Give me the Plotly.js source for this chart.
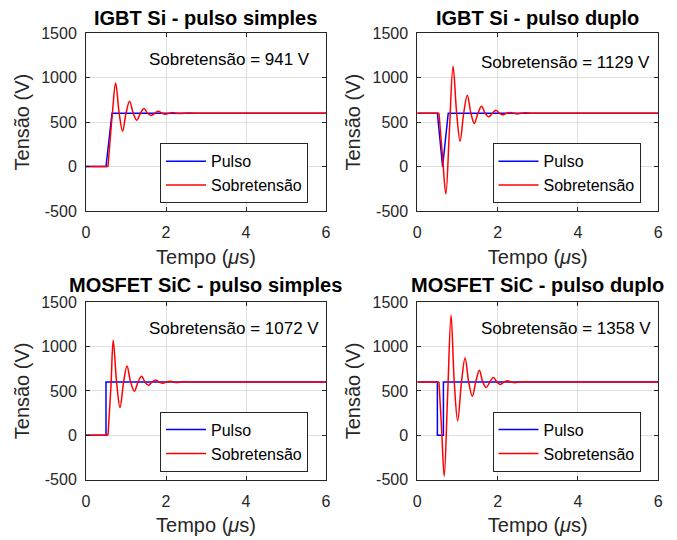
<!DOCTYPE html>
<html><head><meta charset="utf-8">
<script src="https://cdn.plot.ly/plotly-3.0.1.min.js"></script>
<style>html,body{margin:0;padding:0;background:#fff}</style>
</head><body><div id="chart" style="width:677px;height:540px"></div>
<script>
const titles = ['IGBT Si - pulso simples', 'IGBT Si - pulso duplo', 'MOSFET SiC - pulso simples', 'MOSFET SiC - pulso duplo'];
const overshoots = [941, 1129, 1072, 1358];
const seriesNames = ['Pulso', 'Sobretensão'];
const xTicks = [0, 2, 4, 6];
const yTicks = [-500, 0, 500, 1000, 1500];

// Pulso (blue)
const pulseT1 = [0, 0.5, 0.65, 6];
const pulseV1 = [0, 0, 600, 600];
const pulseT2 = [0, 0.5, 0.63, 0.77, 6];
const pulseV2 = [600, 600, 0, 600, 600];
const pulseT3 = [0, 0.5, 0.5, 6];
const pulseV3 = [0, 0, 600, 600];
const pulseT4 = [0, 0.5, 0.5, 0.65, 0.65, 6];
const pulseV4 = [600, 600, 0, 0, 600, 600];

// Sobretensão (red) - flat part before the transient
const preT1 = [0, 0.55], preV1 = [0, 0];
const preT2 = [0, 0.54], preV2 = [600, 600];
const preT3 = [0, 0.55], preV3 = [0, 0];
const preT4 = [0, 0.54], preV4 = [600, 600];

// Sobretensão (red) - oscillating part
const overT1 = [0.55, 0.66, 0.74, 0.83, 0.915, 1.0, 1.09, 1.18, 1.27, 1.36, 1.45, 1.54, 1.63, 1.72, 1.81, 1.9, 1.99, 2.08, 2.17, 2.26, 2.35, 2.44, 2.53, 2.7, 3.0, 6];
const overV1 = [0, 600, 941, 600, 398, 600, 736, 600, 522, 600, 654, 600, 575, 600, 623, 600, 590, 600, 610, 600, 596, 600, 603, 600, 600, 600];
const overT2 = [0.54, 0.63, 0.71, 0.80, 0.89, 0.98, 1.065, 1.155, 1.245, 1.335, 1.42, 1.51, 1.6, 1.69, 1.78, 1.87, 1.955, 2.045, 2.135, 2.22, 2.31, 2.4, 2.49, 2.58, 2.67, 2.85, 3.1, 6];
const overV2 = [600, 100, -308, 410, 1129, 600, 285, 600, 804, 600, 485, 600, 680, 600, 560, 600, 635, 600, 583, 600, 610, 600, 592, 600, 605, 600, 600, 600];
const overT3 = [0.55, 0.625, 0.68, 0.765, 0.85, 0.94, 1.025, 1.115, 1.21, 1.3, 1.39, 1.475, 1.56, 1.65, 1.74, 1.83, 1.92, 2.01, 2.1, 2.19, 2.28, 2.37, 2.46, 2.6, 2.9, 6];
const overV3 = [0, 560, 1072, 600, 312, 600, 782, 600, 496, 600, 665, 600, 563, 600, 623, 600, 585, 600, 610, 600, 594, 600, 604, 600, 600, 600];
const overT4 = [0.54, 0.605, 0.67, 0.755, 0.84, 0.92, 1.005, 1.1, 1.19, 1.28, 1.37, 1.455, 1.545, 1.63, 1.715, 1.805, 1.895, 1.985, 2.07, 2.16, 2.25, 2.34, 2.43, 2.52, 2.61, 2.8, 3.1, 6];
const overV4 = [600, 70, -462, 450, 1358, 600, 162, 600, 872, 600, 440, 600, 733, 600, 538, 600, 650, 600, 573, 600, 615, 600, 592, 600, 604, 600, 600, 600];

const pulses = [[pulseT1, pulseV1], [pulseT2, pulseV2], [pulseT3, pulseV3], [pulseT4, pulseV4]];
const pres = [[preT1, preV1], [preT2, preV2], [preT3, preV3], [preT4, preV4]];
const overs = [[overT1, overV1], [overT2, overV2], [overT3, overV3], [overT4, overV4]];

const FONT = 'Liberation Sans, Arial, Helvetica, sans-serif';
const BLUE = '#0000FF', RED = '#FF0000';
const xDomains = [[86/677, 326/677], [417.3/677, 658.3/677]];
const yDomains = [[1 - 211/540, 1 - 33.3/540], [1 - 479.5/540, 1 - 302.3/540]];
const legendX = [160/677, 492.5/677];
const legendY = [1 - 143.3/540, 1 - 411.7/540];
const labelY = [1200, 1175, 1205, 1205];

const traces = [];
const layout = {
  width: 677, height: 540,
  margin: {l: 0, r: 0, t: 0, b: 0},
  paper_bgcolor: '#fff', plot_bgcolor: '#fff',
  font: {family: FONT, color: '#262626'},
  annotations: []
};

for (let i = 0; i < 4; i++) {
  const n = i === 0 ? '' : String(i + 1);
  const xa = 'x' + n, ya = 'y' + n;
  const leg = 'legend' + n;
  const col = i % 2, row = Math.floor(i / 2);
  traces.push({x: pulses[i][0], y: pulses[i][1], xaxis: xa, yaxis: ya, type: 'scatter', mode: 'lines',
    name: seriesNames[0], legend: leg, line: {color: BLUE, width: 1.5}});
  traces.push({x: pres[i][0], y: pres[i][1], xaxis: xa, yaxis: ya, type: 'scatter', mode: 'lines',
    name: seriesNames[1], legend: leg, showlegend: false, line: {color: RED, width: 1.5}});
  traces.push({x: overs[i][0], y: overs[i][1], xaxis: xa, yaxis: ya, type: 'scatter', mode: 'lines',
    name: seriesNames[1], legend: leg, line: {color: RED, width: 1.5, shape: 'spline', smoothing: 1}});

  const axCommon = {
    showgrid: true, gridcolor: '#dfdfdf', gridwidth: 1,
    showline: true, linecolor: '#262626', linewidth: 1, mirror: 'ticks',
    ticks: 'inside', ticklen: 4, tickcolor: '#262626', tickwidth: 1,
    tickfont: {family: FONT, size: 16, color: '#262626'},
    zeroline: false, fixedrange: true
  };
  layout['xaxis' + n] = Object.assign({}, axCommon, {
    domain: xDomains[col], anchor: ya, range: [0, 6], tickvals: xTicks, ticktext: xTicks.map(String),
    ticklabelstandoff: 7,
    title: {text: 'Tempo (<i>μ</i>s)', font: {family: FONT, size: 20, color: '#262626'}, standoff: 9}
  });
  layout['yaxis' + n] = Object.assign({}, axCommon, {
    domain: yDomains[row], anchor: xa, range: [-500, 1500], tickvals: yTicks, ticktext: yTicks.map(String),
    ticklabelstandoff: 5,
    title: {text: 'Tensão (V)', font: {family: FONT, size: 20, color: '#262626'}, standoff: 6}
  });
  layout[leg] = {
    x: legendX[col], y: legendY[row], xanchor: 'left', yanchor: 'top',
    bgcolor: '#fff', bordercolor: '#262626', borderwidth: 1,
    font: {family: FONT, size: 16, color: '#000'},
    itemwidth: 40, tracegroupgap: 0
  };
  layout.annotations.push({
    xref: 'paper', yref: 'paper',
    x: (xDomains[col][0] + xDomains[col][1]) / 2,
    y: row === 0 ? 1 - 18.5/540 : 1 - 285/540,
    xanchor: 'center', yanchor: 'middle', showarrow: false,
    text: '<b>' + titles[i] + '</b>',
    font: {family: FONT, size: 20, color: '#000'}
  });
  layout.annotations.push({
    xref: xa, yref: ya, x: 1.53, y: labelY[i],
    xanchor: 'left', yanchor: 'middle', showarrow: false,
    text: 'Sobretensão = ' + overshoots[i] + ' V',
    font: {family: FONT, size: 17, color: '#000'}
  });
}

Plotly.newPlot('chart', traces, layout, {displayModeBar: false, staticPlot: true});
</script>
</body></html>
